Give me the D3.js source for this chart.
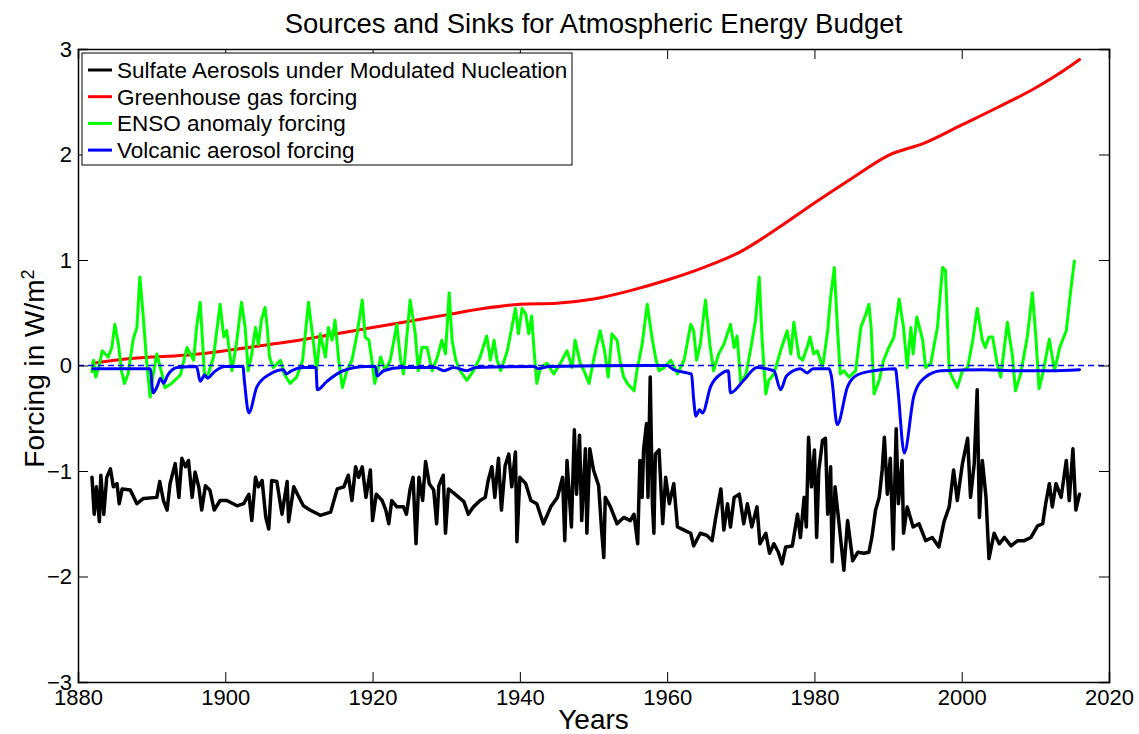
<!DOCTYPE html>
<html><head><meta charset="utf-8">
<script src="https://cdn.jsdelivr.net/npm/d3@7"></script>
<style>
body{margin:0;background:#fff;}
text{font-family:"Liberation Sans",Arial,Helvetica,sans-serif;}
</style></head>
<body><svg id="chart" width="1139" height="734"></svg>
<script>
const title = "Sources and Sinks for Atmospheric Energy Budget";
const xLabel = "Years";
const seriesNames = ["Sulfate Aerosols under Modulated Nucleation","Greenhouse gas forcing","ENSO anomaly forcing","Volcanic aerosol forcing"];
const seriesColors = ["#000000","#ff0000","#00ff00","#0000ff"];
const xTicks = [1880,1900,1920,1940,1960,1980,2000,2020];
const yTicks = [-3,-2,-1,0,1,2,3];

const ghgYears = [1882,1885,1890,1895,1900,1905,1910,1915,1920,1925,1930,1935,1940,1945,1950,1955,1960,1965,1970,1975,1980,1985,1990,1995,2000,2005,2010,2015,2016];
const ghgValues = [0.02,0.05,0.08,0.10,0.14,0.19,0.24,0.30,0.36,0.42,0.48,0.54,0.58,0.59,0.63,0.71,0.81,0.93,1.08,1.30,1.54,1.77,1.99,2.11,2.28,2.45,2.63,2.85,2.90];

const volYears = [1882,1889.8,1890.2,1890.8,1891.2,1891.6,1892.2,1893.5,1896.1,1896.6,1897.2,1897.6,1898.5,1900,1902.4,1902.6,1903.2,1904.3,1906.1,1907.9,1908.3,1909.0,1910.6,1912.3,1912.5,1913.8,1916,1919.2,1920.4,1920.6,1921.5,1924,1928.5,1929.7,1931,1932.8,1934,1941.9,1942.5,1944,1957.3,1960,1960.9,1962.7,1963.3,1963.6,1963.9,1964.4,1964.8,1965.9,1967.3,1968.3,1968.6,1970.4,1972.2,1974.5,1975.4,1976.2,1978.1,1979,1979.8,1982,1982.3,1983.1,1984.5,1985.8,1988,1991.0,1991.3,1992.2,1993.5,1994.9,1997.2,2003,2007.6,2012,2016];
const volValues = [-0.03,-0.03,-0.26,-0.19,-0.12,-0.17,-0.09,-0.02,-0.01,-0.15,-0.09,-0.12,-0.06,-0.01,-0.01,-0.15,-0.45,-0.20,-0.08,-0.04,-0.08,-0.05,-0.02,-0.02,-0.23,-0.15,-0.05,-0.01,-0.01,-0.10,-0.05,-0.02,-0.02,-0.05,-0.02,-0.05,-0.02,-0.01,-0.03,-0.01,0.0,0.0,-0.04,-0.07,-0.08,-0.32,-0.48,-0.42,-0.45,-0.20,-0.08,-0.05,-0.26,-0.14,-0.02,-0.05,-0.23,-0.10,-0.03,-0.07,-0.03,-0.03,-0.10,-0.56,-0.20,-0.09,-0.05,-0.03,-0.20,-0.83,-0.29,-0.12,-0.05,-0.04,-0.05,-0.05,-0.04];

const ensoYears = [1881.9,1882.1,1882.4,1882.8,1883.3,1884.1,1884.6,1885.0,1885.5,1885.9,1886.3,1886.8,1887.5,1888.0,1888.4,1888.9,1889.3,1889.8,1890.0,1890.7,1891.4,1891.8,1892.7,1893.9,1894.8,1895.7,1896.1,1896.6,1896.9,1897.2,1897.7,1898.4,1899.3,1899.8,1900.2,1900.9,1901.5,1902.2,1902.7,1903.1,1903.6,1904.1,1904.5,1904.9,1905.4,1905.7,1906.0,1906.5,1907.5,1908.0,1908.8,1909.7,1910.5,1911.3,1912.0,1912.4,1912.9,1913.6,1914.0,1914.5,1914.9,1915.4,1915.9,1916.5,1917.2,1917.9,1918.6,1919.0,1919.5,1919.9,1920.3,1921.1,1921.7,1922.4,1923.3,1923.8,1924.2,1925.1,1925.8,1926.2,1926.7,1927.4,1928.1,1928.8,1929.4,1929.9,1930.4,1930.8,1931.3,1931.9,1932.8,1933.7,1934.6,1935.5,1936.0,1936.5,1936.9,1937.4,1938.3,1939.4,1939.8,1940.3,1940.8,1941.2,1941.6,1941.9,1942.3,1942.8,1943.7,1944.6,1945.5,1946.4,1947.1,1947.5,1948.2,1948.7,1949.4,1950.0,1950.9,1951.5,1952.0,1952.5,1953.2,1953.6,1954.1,1954.6,1955.5,1955.9,1956.6,1957.3,1958.0,1958.5,1958.9,1959.6,1960.5,1961.4,1962.3,1963.2,1963.6,1964.0,1964.5,1965.2,1965.8,1966.3,1967.0,1967.7,1968.6,1969.1,1969.5,1970.0,1970.7,1971.3,1972.0,1972.5,1972.9,1973.4,1973.8,1974.5,1975.4,1976.3,1976.8,1977.2,1977.9,1978.4,1979.0,1979.4,1979.9,1980.4,1981.1,1981.8,1982.2,1982.7,1983.1,1983.5,1984.0,1984.7,1985.6,1986.3,1987.0,1987.4,1987.7,1988.1,1988.8,1989.4,1990.1,1990.8,1991.5,1992.1,1992.6,1993.1,1993.4,1993.9,1994.7,1995.1,1995.8,1996.7,1997.4,1997.8,1998.3,1998.7,1999.4,2000.1,2000.8,2001.5,2002.1,2002.8,2003.2,2003.7,2004.2,2004.8,2005.3,2006.2,2006.9,2007.3,2008.0,2008.9,2009.6,2010.1,2010.5,2011.0,2011.9,2012.6,2013.3,2014.2,2014.8,2015.3,2016.0];
const ensoValues = [-0.06,0.05,-0.11,-0.02,0.14,0.08,0.17,0.39,0.20,-0.05,-0.17,-0.08,0.25,0.36,0.84,0.43,0.05,-0.30,-0.17,0.11,-0.08,-0.21,-0.17,-0.09,0.17,0.05,0.36,0.60,0.24,-0.11,-0.08,0.08,0.58,0.27,0.33,-0.05,0.20,0.60,0.36,-0.05,0.11,0.36,0.20,0.43,0.55,0.36,0.08,-0.02,0.05,-0.08,-0.17,-0.11,0.05,0.60,0.20,-0.05,0.30,0.08,0.36,0.24,0.43,0.05,-0.21,-0.05,0.05,0.30,0.62,0.27,0.24,0.05,-0.17,0.08,-0.05,0.05,0.39,0.05,-0.08,0.62,0.30,-0.05,0.17,0.17,-0.05,0.08,0.24,0.11,0.69,0.24,0.05,-0.05,-0.14,-0.05,0.08,0.28,0.05,0.24,0.05,-0.05,0.14,0.54,0.30,0.54,0.49,0.30,0.47,0.17,-0.17,-0.02,0.02,-0.08,0.02,0.14,-0.02,0.24,0.02,-0.05,-0.17,0.05,0.33,0.14,-0.11,0.30,0.24,0.05,-0.11,-0.17,-0.24,-0.05,0.20,0.58,0.24,0.05,-0.05,-0.02,0.05,-0.08,0.05,0.39,0.33,0.05,0.20,0.62,0.20,-0.05,0.11,0.20,0.39,0.17,0.28,-0.17,-0.08,0.14,0.43,0.84,0.24,-0.27,-0.14,-0.08,0.14,0.33,0.11,0.41,0.08,0.05,0.17,0.27,0.11,0.14,-0.02,0.33,0.65,0.93,0.39,-0.08,-0.05,-0.11,-0.05,0.36,0.49,0.58,0.36,-0.27,-0.14,0.05,0.17,0.27,0.63,0.36,-0.02,0.36,0.11,0.46,0.24,-0.02,0.02,0.36,0.93,0.90,-0.05,-0.11,-0.21,-0.05,-0.02,0.24,0.54,0.24,0.17,0.27,0.27,0.02,-0.11,0.41,0.08,-0.24,-0.08,0.27,0.69,0.24,-0.22,-0.08,0.25,-0.05,0.17,0.33,0.71,0.99];

const sulYears = [1881.9,1882.2,1882.5,1882.9,1883.1,1883.5,1883.9,1884.4,1884.8,1885.3,1885.6,1886.0,1887.1,1888.0,1888.9,1890.7,1891.1,1891.6,1892.1,1892.5,1893.2,1893.7,1894.1,1894.6,1895.0,1895.5,1895.9,1896.4,1896.8,1897.3,1897.9,1898.5,1899.3,1900.2,1901.6,1902.5,1903.2,1903.6,1904.1,1904.5,1905.0,1905.5,1905.9,1906.3,1907.0,1907.7,1908.4,1908.6,1909.3,1909.8,1910.6,1911.5,1912.9,1914.3,1915.2,1916.1,1916.7,1917.2,1917.7,1918.1,1918.6,1919.1,1919.7,1920.0,1920.5,1921.3,1921.8,1922.2,1922.6,1923.3,1924.2,1924.6,1925.1,1925.5,1925.9,1926.3,1926.8,1927.2,1927.7,1928.3,1928.7,1929.0,1929.6,1929.9,1930.3,1931.2,1932.4,1933.0,1933.7,1934.6,1935.3,1935.7,1936.2,1936.6,1937.1,1937.5,1938.0,1938.5,1938.9,1939.4,1939.6,1940.0,1940.8,1941.5,1942.3,1943.2,1944.2,1945.1,1945.8,1946.1,1946.4,1947.0,1947.4,1947.7,1948.1,1948.4,1948.9,1949.1,1949.5,1950.0,1950.7,1951.1,1951.4,1951.6,1952.3,1953.2,1954.1,1955.0,1955.5,1956.0,1956.3,1956.6,1956.8,1957.2,1957.4,1957.7,1958.0,1958.2,1958.4,1958.9,1959.4,1959.8,1960.3,1960.9,1961.4,1962.3,1963.2,1963.6,1964.5,1965.4,1966.1,1966.6,1967.3,1967.7,1968.2,1968.6,1969.1,1969.8,1970.4,1970.9,1971.5,1972.2,1972.6,1973.4,1973.9,1974.5,1975.1,1975.6,1976.1,1977.0,1977.7,1978.1,1978.6,1978.9,1979.2,1979.6,1980.0,1980.3,1980.6,1981.1,1981.5,1981.8,1982.2,1982.4,1982.8,1983.3,1984.0,1984.5,1985.2,1985.9,1986.7,1987.4,1987.8,1988.3,1988.8,1989.2,1989.5,1989.9,1990.3,1990.7,1991.1,1991.4,1991.9,1992.1,1992.6,1993.4,1994.2,1995.1,1996.0,1996.9,1997.6,1998.3,1998.9,1999.4,2000.1,2000.8,2001.2,2001.7,2002.1,2002.4,2002.8,2003.3,2003.7,2004.4,2005.1,2005.8,2006.7,2007.6,2008.5,2009.4,2010.3,2011.0,2011.4,2011.9,2012.3,2012.8,2013.5,2014.2,2014.6,2015.1,2015.5,2016.0];
const sulValues = [-1.06,-1.41,-1.15,-1.48,-1.04,-1.41,-1.06,-0.98,-1.15,-1.12,-1.31,-1.17,-1.18,-1.31,-1.26,-1.25,-1.10,-1.28,-1.37,-1.12,-0.93,-1.25,-0.88,-0.96,-0.90,-1.25,-1.01,-1.15,-1.37,-1.14,-1.18,-1.37,-1.28,-1.28,-1.33,-1.31,-1.22,-1.47,-1.06,-1.15,-1.09,-1.44,-1.55,-1.09,-1.10,-1.41,-1.10,-1.48,-1.15,-1.22,-1.33,-1.37,-1.42,-1.39,-1.17,-1.15,-1.04,-1.28,-0.96,-1.06,-0.96,-1.25,-0.99,-1.47,-1.22,-1.28,-1.37,-1.50,-1.28,-1.34,-1.34,-1.41,-1.17,-1.06,-1.69,-1.06,-1.28,-0.91,-1.12,-1.18,-1.50,-1.14,-1.04,-1.59,-1.17,-1.22,-1.29,-1.41,-1.34,-1.28,-1.25,-1.09,-0.96,-1.25,-0.88,-1.37,-0.95,-0.84,-1.15,-0.82,-1.67,-1.06,-1.12,-1.28,-1.31,-1.50,-1.34,-1.25,-1.06,-1.66,-0.90,-1.53,-0.61,-1.22,-0.66,-1.47,-0.79,-1.59,-0.79,-0.99,-1.14,-1.56,-1.82,-1.25,-1.34,-1.50,-1.44,-1.47,-1.41,-1.69,-0.90,-1.25,-0.80,-0.55,-1.25,-0.11,-1.31,-1.59,-0.84,-0.80,-1.50,-1.06,-1.31,-1.12,-1.53,-1.56,-1.59,-1.71,-1.59,-1.61,-1.66,-1.44,-1.17,-1.56,-1.31,-1.53,-1.25,-1.22,-1.50,-1.31,-1.53,-1.34,-1.69,-1.59,-1.78,-1.69,-1.77,-1.88,-1.72,-1.71,-1.41,-1.63,-1.25,-1.53,-0.68,-1.15,-0.80,-1.63,-0.99,-0.71,-0.69,-1.41,-0.96,-1.86,-1.15,-1.47,-1.94,-1.47,-1.85,-1.77,-1.78,-1.77,-1.63,-1.37,-1.25,-0.99,-0.68,-1.22,-0.88,-1.74,-0.60,-1.31,-0.90,-1.59,-1.34,-1.53,-1.50,-1.66,-1.63,-1.72,-1.48,-1.34,-0.99,-1.28,-0.93,-0.69,-1.25,-0.93,-0.23,-1.44,-0.90,-1.25,-1.83,-1.59,-1.69,-1.63,-1.71,-1.66,-1.66,-1.63,-1.52,-1.50,-1.31,-1.12,-1.34,-1.12,-1.25,-0.90,-1.28,-0.79,-1.37,-1.22];

const svg = d3.select("#chart");
const L = 78, R = 1109, T = 49, B = 682;
const x = d3.scaleLinear().domain([1880,2020]).range([L,R]);
const y = d3.scaleLinear().domain([-3,3]).range([B,T]);

svg.append("rect").attr("width",1139).attr("height",734).attr("fill","#fff");

const zip = (a,b) => a.map((v,i)=>[v,b[i]]);

const plot = svg.append("g");
const series = [zip(sulYears,sulValues), zip(ghgYears,ghgValues), zip(ensoYears,ensoValues), zip(volYears,volValues)];
const curves = [d3.curveLinear, d3.curveMonotoneX, d3.curveLinear, d3.curveMonotoneX];
const widths = [3.5, 3, 3, 3];
series.forEach((s,i)=>{
  plot.append("path").datum(s)
    .attr("d", d3.line().x(d=>x(d[0])).y(d=>y(d[1])).curve(curves[i]))
    .attr("fill","none").attr("stroke",seriesColors[i])
    .attr("stroke-width",widths[i]).attr("stroke-linejoin","round").attr("stroke-linecap","round");
});
// zero dashed line
plot.append("line").attr("x1",L).attr("x2",R).attr("y1",y(0)).attr("y2",y(0))
  .attr("stroke","#0000ff").attr("stroke-width",1.6).attr("stroke-dasharray","6,4");

// axes with inward ticks
const fs = 22;
const axB = d3.axisBottom(x).tickValues(xTicks).tickFormat(d3.format("d")).tickSize(-10).tickPadding(7);
const axT = d3.axisTop(x).tickValues(xTicks).tickFormat("").tickSize(-10);
const axLf = d3.axisLeft(y).tickValues(yTicks).tickFormat(d=> d<0 ? "\u2212"+Math.abs(d) : d).tickSize(-10).tickPadding(6);
const axRt = d3.axisRight(y).tickValues(yTicks).tickFormat("").tickSize(-10);
[[axB,`translate(0,${B})`],[axT,`translate(0,${T})`],[axLf,`translate(${L},0)`],[axRt,`translate(${R},0)`]].forEach(([a,t])=>{
  const g = svg.append("g").attr("transform",t).call(a);
  g.select(".domain").attr("stroke","#000").attr("stroke-width",1.5);
  g.selectAll(".tick line").attr("stroke","#000").attr("stroke-width",1);
  g.selectAll("text").attr("font-size",fs).attr("fill","#000").style("font-family","Liberation Sans, Arial, sans-serif");
});

// title and labels
svg.append("text").attr("x",(L+R)/2).attr("y",33).attr("text-anchor","middle")
  .attr("font-size",27.5).text(title);
svg.append("text").attr("x",(L+R)/2).attr("y",729).attr("text-anchor","middle")
  .attr("font-size",28).text(xLabel);
const yl = svg.append("text").attr("transform",`translate(44,${(T+B)/2 + 3}) rotate(-90)`)
  .attr("text-anchor","middle").attr("font-size",28);
yl.append("tspan").text("Forcing in W/m");
yl.append("tspan").attr("baseline-shift","super").attr("font-size",18).text("2");

// legend
const lg = svg.append("g");
lg.append("rect").attr("x",82).attr("y",53).attr("width",490).attr("height",112)
  .attr("fill","#fff").attr("stroke","#000").attr("stroke-width",1);
seriesNames.forEach((n,i)=>{
  const cy = 70 + i*26.7;
  lg.append("line").attr("x1",88).attr("x2",112).attr("y1",cy).attr("y2",cy)
    .attr("stroke",seriesColors[i]).attr("stroke-width",3);
  lg.append("text").attr("x",117).attr("y",cy+8).attr("font-size",22.5).text(n);
});
</script></body></html>
